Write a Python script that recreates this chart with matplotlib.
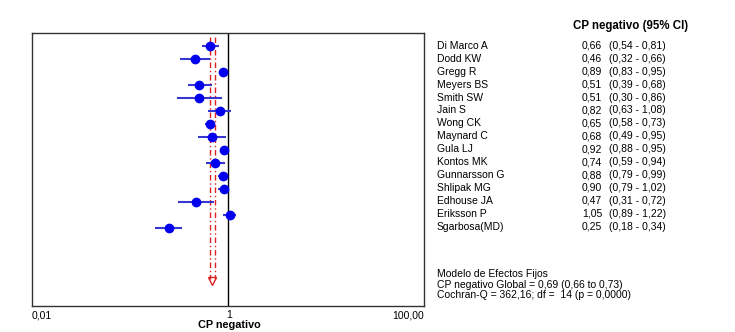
import numpy as np
import matplotlib
matplotlib.use('Agg')
import matplotlib.pyplot as plt

plt.rcParams['font.family'] = ['Liberation Sans', 'DejaVu Sans']

studies = ['Di Marco A', 'Dodd KW', 'Gregg R', 'Meyers BS', 'Smith SW', 'Jain S',
           'Wong CK', 'Maynard C', 'Gula LJ', 'Kontos MK', 'Gunnarsson G',
           'Shlipak MG', 'Edhouse JA', 'Eriksson P', 'Sgarbosa(MD)']
est = [0.66, 0.46, 0.89, 0.51, 0.51, 0.82, 0.65, 0.68, 0.92, 0.74, 0.88, 0.90, 0.47, 1.05, 0.25]
lo = [0.54, 0.32, 0.83, 0.39, 0.30, 0.63, 0.58, 0.49, 0.88, 0.59, 0.79, 0.79, 0.31, 0.89, 0.18]
hi = [0.81, 0.66, 0.95, 0.68, 0.86, 1.08, 0.73, 0.95, 0.95, 0.94, 0.99, 1.02, 0.72, 1.22, 0.34]
pooled = 0.69
pooled_lo = 0.66
pooled_hi = 0.73

def fmt(v):
    return f'{v:.2f}'.replace('.', ',')

fig = plt.figure(figsize=(7.35, 3.32), dpi=100)
ax = fig.add_axes([32 / 735, 1 - 306 / 332, 392 / 735, 273 / 332])

rows = np.arange(len(studies))
est = np.array(est)
lo = np.array(lo)
hi = np.array(hi)

# pooled estimate lines
for v in [pooled_lo, pooled_hi]:
    ax.plot([v, v], [-0.7, 17.9], color='#e02020', lw=1, linestyle=(0, (4, 2, 1, 2)), zorder=1)
ax.plot([pooled], [18.1], marker='v', mfc='none', mec='#e02020', ms=6, mew=1, zorder=1)

ax.axvline(1, color='black', lw=1, zorder=2)

ax.errorbar(est, rows, xerr=[est - lo, hi - est], fmt='o', color='#1a1ad8', ecolor='#3535d0',
            elinewidth=1.5, capsize=0, ms=6, mfc='#0000ee', mec='#0000ee', zorder=3)

ax.set_xscale('log')
ax.set_xlim(0.01, 100)
ax.set_ylim(20, -1)
ax.set_yticks([])
ax.set_xticks([])
ax.minorticks_off()
for s in ax.spines.values():
    s.set_color('#333333')
    s.set_linewidth(1)

fig.text(32 / 735, 1 - 315 / 332, '0,01', fontsize=7.5, ha='left', va='center')
fig.text(229 / 735, 1 - 315 / 332, '1', fontsize=7.5, ha='center', va='center')
fig.text(424 / 735, 1 - 315 / 332, '100,00', fontsize=7.5, ha='right', va='center')
fig.text(229 / 735, 1 - 325 / 332, 'CP negativo', fontsize=7.8, ha='center', va='center',
         fontweight='bold')

# table on the right
fig.text(631 / 735, 1 - 26 / 332, 'CP negativo (95% CI)', fontsize=8.3, ha='center',
         va='center', fontweight='bold')
for i, name in enumerate(studies):
    y = 1 - (46 + 12.9 * i) / 332
    fig.text(437 / 735, y, name, fontsize=7.5, ha='left', va='center')
    fig.text(602 / 735, y, fmt(est[i]), fontsize=7.5, ha='right', va='center')
    fig.text(609 / 735, y, f'({fmt(lo[i])} - {fmt(hi[i])})', fontsize=7.5, ha='left', va='center')

fig.text(437 / 735, 1 - 274 / 332, 'Modelo de Efectos Fijos', fontsize=7.5, ha='left', va='center')
fig.text(437 / 735, 1 - 285 / 332,
         f'CP negativo Global = {fmt(pooled)} ({fmt(pooled_lo)} to {fmt(pooled_hi)})',
         fontsize=7.5, ha='left', va='center')
fig.text(437 / 735, 1 - 295 / 332, 'Cochran-Q = 362,16; df =  14 (p = 0,0000)',
         fontsize=7.5, ha='left', va='center')

fig.savefig('out.png', dpi=100)
